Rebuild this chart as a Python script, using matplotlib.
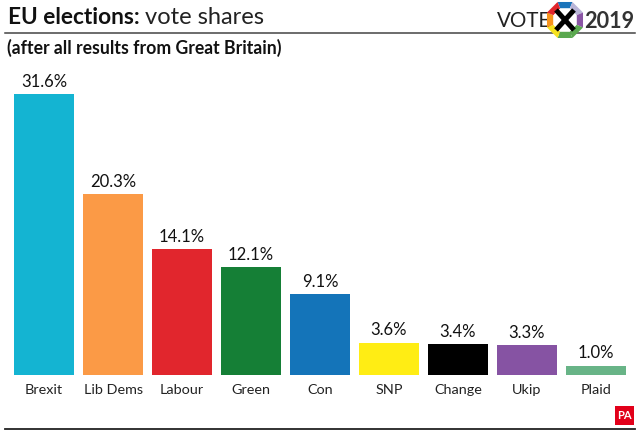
import numpy as np
import matplotlib
matplotlib.use("Agg")
import matplotlib.pyplot as plt
from matplotlib.patches import Polygon, Rectangle

parties = ['Brexit', 'Lib Dems', 'Labour', 'Green', 'Con', 'SNP', 'Change', 'Ukip', 'Plaid']
shares = [31.6, 20.3, 14.1, 12.1, 9.1, 3.6, 3.4, 3.3, 1.0]
colours = ['#14b4d2', '#fb9a46', '#e1262d', '#157f36', '#1474b9', '#ffed14', '#000000', '#8653a3', '#68b487']

# logo ring, clockwise from the top
logo_colours = ['#1b75bb', '#b9b5d8', '#8a55a5', '#5aa84f', '#5aa84f', '#f6e21e', '#f7941d', '#e1262d']

plt.rcParams['font.family'] = ['Lato', 'DejaVu Sans']
W, H = 640, 432
fig = plt.figure(figsize=(6.4, 4.32), dpi=100)

# bars
ax = fig.add_axes([9.5 / W, (H - 374.5) / H, 621 / W, 280.5 / H])
ax.bar(range(len(parties)), shares, width=0.87, color=colours)
ax.set_xlim(-0.5, 8.5)
ax.set_ylim(0, 31.6)
ax.set_xticks(range(len(parties)))
ax.set_xticklabels(parties, fontsize=10.4, color='#222222')
ax.tick_params(axis='x', length=0, pad=6.5)
ax.set_yticks([])
for s in ax.spines.values():
    s.set_visible(False)
ax.patch.set_alpha(0)
for i, v in enumerate(shares):
    ax.annotate('%.1f%%' % v, (i, v), xytext=(0, 3), textcoords='offset points',
                ha='center', va='bottom', fontsize=12, color='#111111')

# furniture in pixel coordinates
over = fig.add_axes([0, 0, 1, 1])
over.set_xlim(0, W)
over.set_ylim(H, 0)
over.axis('off')
over.patch.set_alpha(0)

over.plot([5, 635], [32.5, 32.5], color='#444444', lw=1.1)
over.plot([5, 635], [428.5, 428.5], color='#222222', lw=1.3)

t = over.text(7.5, 18, 'EU elections:', fontsize=16.3, fontweight='bold', color='#111111', va='center')
fig.canvas.draw()
end = t.get_window_extent().x1
over.text(end + 6, 18, 'vote shares', fontsize=17, color='#222222', va='center')
over.text(7, 48, '(after all results from Great Britain)', fontsize=12.7, fontweight='bold',
          color='#111111', va='center')

# VOTE X 2019 logo
over.text(497, 21, 'VOTE', fontsize=14.8, color='#222222', va='center', ha='left')
over.text(584, 21, '2019', fontsize=15.6, fontweight='bold', color='#333333', va='center', ha='left')
cx, cy = 565, 20
angles = np.radians(np.arange(-112.5, 247.5, 45))
for i, c in enumerate(logo_colours):
    a0, a1 = angles[i], angles[i] + np.radians(45)
    pts = [(cx + 19.5 * np.cos(a0), cy + 19.5 * np.sin(a0)), (cx + 19.5 * np.cos(a1), cy + 19.5 * np.sin(a1)),
           (cx + 12.5 * np.cos(a1), cy + 12.5 * np.sin(a1)), (cx + 12.5 * np.cos(a0), cy + 12.5 * np.sin(a0))]
    over.add_patch(Polygon(pts, closed=True, color=c, lw=0, zorder=3))
over.add_patch(Polygon([(cx + 12.5 * np.cos(a), cy + 12.5 * np.sin(a)) for a in angles], closed=True,
                       color='white', lw=0, zorder=3))
over.plot([cx - 9, cx + 9], [cy - 10, cy + 10], color='black', lw=3.6, zorder=4, solid_capstyle='butt')
over.plot([cx + 9, cx - 9], [cy - 10, cy + 10], color='black', lw=3.6, zorder=4, solid_capstyle='butt')

# PA badge
over.add_patch(Rectangle((615, 406), 19, 19, color='#e2001a', lw=0))
over.text(624.5, 415.8, 'PA', fontsize=8, fontweight='bold', color='white', ha='center', va='center', stretch='condensed')

fig.savefig('out.png', dpi=100)
